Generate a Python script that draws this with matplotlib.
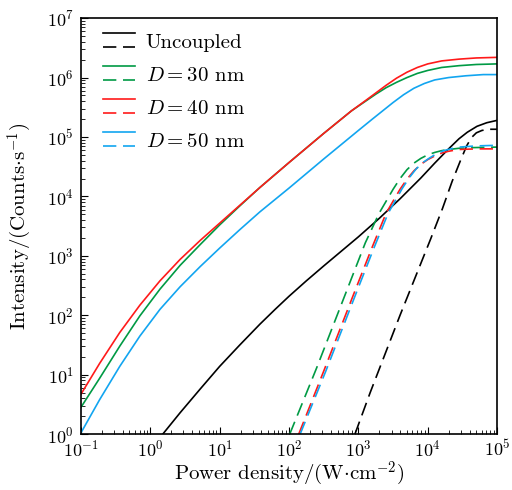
import matplotlib

matplotlib.use("Agg")
import matplotlib.pyplot as plt
import numpy as np
from matplotlib.legend_handler import HandlerBase
from matplotlib.lines import Line2D

plt.rcParams["font.family"] = "serif"
plt.rcParams["font.serif"] = ["cmr10", "DejaVu Serif"]
plt.rcParams["mathtext.fontset"] = "cm"
plt.rcParams["axes.formatter.use_mathtext"] = True
plt.rcParams["font.size"] = 15

# log10 values (x = power density, y = intensity)
unc_solid_x = [0.18, 0.43, 0.72, 1.0, 1.29, 1.58, 1.8, 2.0, 2.25, 2.5, 3.0, 3.3, 3.6, 3.9, 4.1, 4.3, 4.45, 4.57, 4.71, 4.85, 5.0]
unc_solid_y = [0.0, 0.36, 0.76, 1.14, 1.50, 1.85, 2.10, 2.32, 2.58, 2.83, 3.32, 3.63, 3.96, 4.31, 4.56, 4.80, 4.97, 5.08, 5.18, 5.24, 5.28]
unc_dash_x = [2.95, 3.17, 3.6, 4.04, 4.21, 4.35, 4.47, 4.56, 4.63, 4.7, 4.78, 4.88, 5.0]
unc_dash_y = [0.0, 0.70, 2.0, 3.28, 3.79, 4.25, 4.60, 4.85, 4.99, 5.07, 5.11, 5.13, 5.13]

d30_solid_x = [-1.0, -0.73, -0.44, -0.15, 0.14, 0.43, 0.72, 1.0, 1.29, 1.58, 2.0, 2.5, 2.9, 3.1, 3.25, 3.4, 3.55, 3.7, 3.85, 4.0, 4.2, 4.45, 4.7, 5.0]
d30_solid_y = [0.45, 0.94, 1.48, 1.99, 2.44, 2.84, 3.19, 3.52, 3.84, 4.15, 4.57, 5.06, 5.44, 5.60, 5.72, 5.83, 5.92, 6.00, 6.07, 6.12, 6.17, 6.20, 6.22, 6.23]
d30_dash_x = [2.01, 2.4, 2.83, 3.1, 3.3, 3.5, 3.6, 3.7, 3.8, 3.9, 4.0, 4.1, 4.2, 4.3, 4.45, 4.6, 5.0]
d30_dash_y = [0.0, 1.12, 2.41, 3.22, 3.72, 4.12, 4.30, 4.45, 4.56, 4.64, 4.70, 4.74, 4.77, 4.79, 4.81, 4.82, 4.83]

d40_solid_x = [-1.0, -0.73, -0.44, -0.15, 0.14, 0.43, 0.72, 1.0, 1.29, 1.58, 2.0, 2.5, 2.9, 3.1, 3.25, 3.4, 3.55, 3.7, 3.85, 4.0, 4.2, 4.45, 4.7, 5.0]
d40_solid_y = [0.67, 1.19, 1.71, 2.17, 2.58, 2.94, 3.26, 3.55, 3.85, 4.15, 4.57, 5.06, 5.44, 5.61, 5.74, 5.87, 5.99, 6.09, 6.17, 6.23, 6.28, 6.31, 6.33, 6.34]
d40_dash_x = [2.14, 2.5, 2.93, 3.2, 3.4, 3.6, 3.7, 3.8, 3.9, 4.0, 4.1, 4.2, 4.3, 4.45, 4.7, 5.0]
d40_dash_y = [0.0, 1.06, 2.35, 3.15, 3.72, 4.12, 4.29, 4.43, 4.54, 4.62, 4.68, 4.73, 4.76, 4.79, 4.80, 4.80]

d50_solid_x = [-1.0, -0.73, -0.44, -0.15, 0.14, 0.43, 0.72, 1.0, 1.29, 1.58, 2.0, 2.5, 3.0, 3.2, 3.35, 3.5, 3.65, 3.8, 3.95, 4.1, 4.3, 4.55, 4.8, 5.0]
d50_solid_y = [0.02, 0.58, 1.14, 1.65, 2.10, 2.48, 2.82, 3.13, 3.44, 3.74, 4.14, 4.63, 5.11, 5.30, 5.44, 5.58, 5.71, 5.82, 5.90, 5.96, 6.00, 6.03, 6.05, 6.05]
d50_dash_x = [2.16, 2.53, 2.96, 3.23, 3.43, 3.63, 3.73, 3.83, 3.93, 4.03, 4.13, 4.23, 4.33, 4.45, 4.7, 5.0]
d50_dash_y = [0.0, 1.06, 2.35, 3.15, 3.72, 4.13, 4.31, 4.46, 4.57, 4.65, 4.72, 4.77, 4.80, 4.83, 4.85, 4.86]

labels = ["Uncoupled", "$D=30$ nm", "$D=40$ nm", "$D=50$ nm"]
colors = ["black", "#009a44", "#ff1a1a", "#12a5f0"]

DASHES = (8, 4)
LW = 1.2


class SolidOverDashed(HandlerBase):
    def __init__(self, color):
        super().__init__()
        self.color = color

    def create_artists(self, legend, orig_handle, xdescent, ydescent, width, height, fontsize, trans):
        xs = [-xdescent, -xdescent + width]
        top = Line2D(xs, [height * 0.85 - ydescent] * 2, color=self.color, lw=LW)
        bottom = Line2D(xs, [height * 0.22 - ydescent] * 2, color=self.color, lw=LW, dashes=DASHES)
        top.set_transform(trans)
        bottom.set_transform(trans)
        return [top, bottom]


def main() -> None:
    fig = plt.figure(figsize=(5.12, 4.9), dpi=100)
    ax = fig.add_axes([0.158, 0.114, 0.813, 0.849])

    series = [
        (unc_solid_x, unc_solid_y, unc_dash_x, unc_dash_y),
        (d30_solid_x, d30_solid_y, d30_dash_x, d30_dash_y),
        (d40_solid_x, d40_solid_y, d40_dash_x, d40_dash_y),
        (d50_solid_x, d50_solid_y, d50_dash_x, d50_dash_y),
    ]
    handles = []
    for (sx, sy, dx, dy), color in zip(series, colors):
        line, = ax.plot(np.power(10.0, sx), np.power(10.0, sy), color=color, lw=LW)
        ax.plot(np.power(10.0, dx), np.power(10.0, dy), color=color, lw=LW, dashes=DASHES)
        handles.append(line)

    ax.set_xscale("log")
    ax.set_yscale("log")
    ax.set_xlim(1e-1, 1e5)
    ax.set_ylim(1e0, 1e7)
    ax.tick_params(which="both", direction="in", top=False, right=False, labelsize=13)
    ax.tick_params(which="major", length=5)
    ax.tick_params(which="minor", length=3)
    ax.tick_params(axis="x", which="major", pad=3)
    ax.tick_params(axis="y", which="major", pad=5)
    for spine in ax.spines.values():
        spine.set_linewidth(1.2)
    ax.set_xlabel(r"Power density/(W$\cdot$cm$^{-2}$)")
    ax.set_ylabel(r"Intensity/(Counts$\cdot$s$^{-1}$)")
    ax.xaxis.set_label_coords(0.5, -0.062)
    ax.yaxis.set_label_coords(-0.113, 0.5)

    ax.legend(
        handles,
        labels,
        handler_map={h: SolidOverDashed(c) for h, c in zip(handles, colors)},
        loc="upper left",
        bbox_to_anchor=(0.008, 1.018),
        frameon=False,
        handlelength=1.55,
        handleheight=1.3,
        handletextpad=0.5,
        labelspacing=0.5,
    )
    fig.savefig("out.png", dpi=100)


if __name__ == "__main__":
    main()
